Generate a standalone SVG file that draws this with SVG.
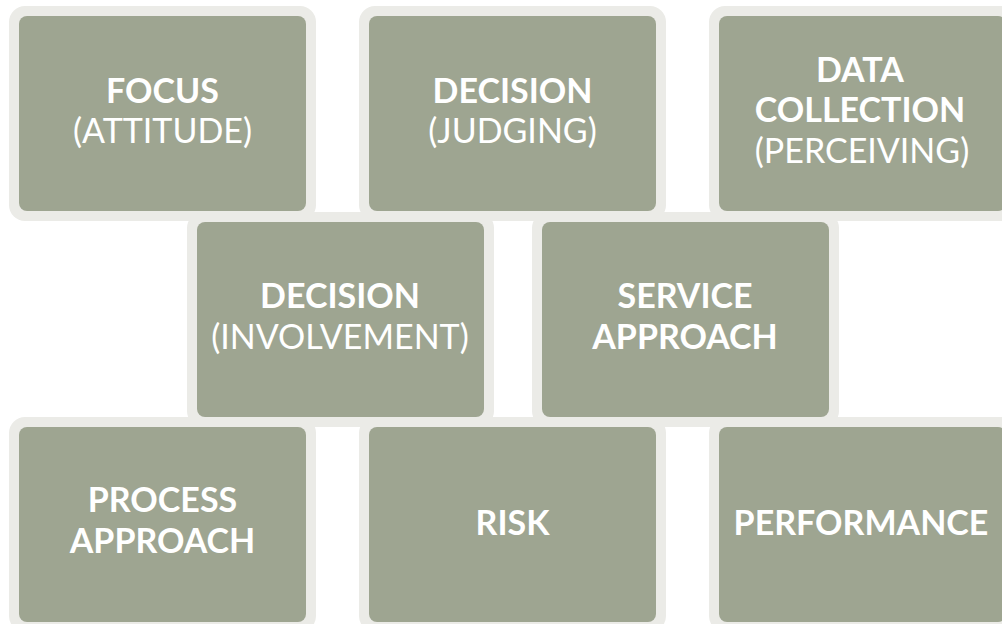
<svg xmlns="http://www.w3.org/2000/svg" width="1002" height="624" viewBox="0 0 1002 624">
<style>
.out{fill:#ebebe7}
.in{fill:#9ea591}
text{fill:#ffffff;font-family:Lato,"Open Sans",sans-serif;font-size:34px;text-anchor:middle}
.b{font-weight:700}
.r{font-weight:400}
</style>
<rect width="1002" height="624" fill="#ffffff"/>
<g id="connectors"></g>
<g id="focus">
<rect class="out" x="9" y="6" width="307" height="215" rx="16"/>
<rect class="in" x="19" y="16" width="287" height="195" rx="8"/>
<text x="162.5" y="103" class="b">FOCUS</text>
<text x="162.5" y="143" class="r">(ATTITUDE)</text>
</g>
<g id="decision-judging">
<rect class="out" x="359" y="6" width="307" height="215" rx="16"/>
<rect class="in" x="369" y="16" width="287" height="195" rx="8"/>
<text x="512.5" y="103" class="b">DECISION</text>
<text x="512.5" y="143" class="r">(JUDGING)</text>
</g>
<g id="data-collection">
<rect class="out" x="709" y="6" width="307" height="215" rx="16"/>
<rect class="in" x="719" y="16" width="287" height="195" rx="8"/>
<text x="860" y="82" class="b">DATA</text>
<text x="860" y="122" class="b">COLLECTION</text>
<text x="862" y="163" class="r">(PERCEIVING)</text>
</g>
<g id="decision-involvement">
<rect class="out" x="187" y="212" width="307" height="215" rx="16"/>
<rect class="in" x="197" y="222" width="287" height="195" rx="8"/>
<text x="340" y="308" class="b">DECISION</text>
<text x="340" y="349" class="r">(INVOLVEMENT)</text>
</g>
<g id="service-approach">
<rect class="out" x="532" y="212" width="307" height="215" rx="16"/>
<rect class="in" x="542" y="222" width="287" height="195" rx="8"/>
<text x="685" y="308" class="b">SERVICE</text>
<text x="685" y="349" class="b">APPROACH</text>
</g>
<g id="process-approach">
<rect class="out" x="9" y="417" width="307" height="215" rx="16"/>
<rect class="in" x="19" y="427" width="287" height="195" rx="8"/>
<text x="162.5" y="512" class="b">PROCESS</text>
<text x="162.5" y="553" class="b">APPROACH</text>
</g>
<g id="risk">
<rect class="out" x="359" y="417" width="307" height="215" rx="16"/>
<rect class="in" x="369" y="427" width="287" height="195" rx="8"/>
<text x="512.5" y="535" class="b">RISK</text>
</g>
<g id="performance">
<rect class="out" x="709" y="417" width="307" height="215" rx="16"/>
<rect class="in" x="719" y="427" width="287" height="195" rx="8"/>
<text x="861" y="535" class="b">PERFORMANCE</text>
</g>
</svg>
